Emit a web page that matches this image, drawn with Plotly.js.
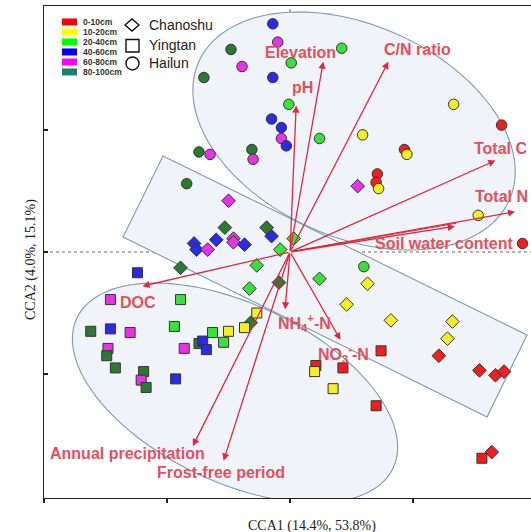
<!DOCTYPE html>
<html>
<head>
<meta charset="utf-8">
<script src="https://cdn.plot.ly/plotly-3.0.1.min.js"></script>
<style>html,body{margin:0;padding:0;background:#fff;}#chart{width:531px;height:532px;}</style>
</head>
<body>
<div id="chart"></div>
<script>
// ---------------- DATA (CCA site scores / biplot arrows) ----------------
// depth codes: 0=0-10cm, 1=10-20cm, 2=20-40cm, 3=40-60cm, 4=60-80cm, 5=80-100cm
const depthLabels = ['0-10cm', '10-20cm', '20-40cm', '40-60cm', '60-80cm', '80-100cm'];
const siteNames = ['Chanoshu', 'Yingtan', 'Hailun'];

const changshuX = [-0.50, 0.55, -0.53, -0.19, -0.15, 0.03, -0.78, -0.76, -0.60, -0.46, -0.46, -0.37, -0.67, -0.08, -0.89, -0.27, -0.09, -0.33, 0.24, 0.63, 0.46, 0.82, 1.32, 1.28, 1.21, 1.54, 1.67, 1.74, 1.64, -0.32];
const changshuY = [0.42, 0.54, 0.20, 0.20, 0.13, 0.11, 0.07, 0.02, 0.10, 0.11, 0.08, 0.06, 0.02, 0.02, -0.13, -0.11, -0.25, -0.30, -0.22, -0.26, -0.43, -0.56, -0.57, -0.71, -0.85, -0.97, -1.01, -0.98, -1.64, -0.58];
const changshuDepth = [4, 4, 5, 5, 3, 2, 3, 3, 3, 4, 4, 3, 4, 2, 5, 2, 5, 2, 2, 1, 1, 1, 1, 1, 0, 0, 0, 0, 0, 5];

const yingtanX = [-1.24, -1.46, -0.89, -0.27, -0.37, -0.50, -0.63, -0.94, -1.62, -1.46, -1.30, -0.54, -0.74, -0.71, -0.68, -0.86, -1.48, -1.49, -1.42, -1.19, -1.21, -1.17, -0.93, 0.74, 0.21, 0.20, 0.43, 0.35, 0.70, 1.56];
const yingtanY = [-0.17, -0.39, -0.39, -0.50, -0.62, -0.65, -0.66, -0.61, -0.65, -0.63, -0.66, -0.74, -0.75, -0.73, -0.80, -0.79, -0.79, -0.85, -0.95, -0.98, -1.05, -1.11, -1.04, -0.81, -0.93, -0.98, -0.95, -1.12, -1.26, -1.69];
const yingtanDepth = [3, 4, 2, 1, 1, 1, 2, 2, 5, 3, 4, 2, 5, 3, 3, 4, 4, 5, 5, 5, 4, 5, 3, 0, 0, 1, 0, 1, 0, 0];

const hailunX = [-0.14, -0.10, -0.48, 0.42, 0.01, -0.39, -0.70, -0.14, -0.01, 1.33, 1.72, -0.15, -0.07, 0.59, -0.07, 0.24, -0.03, -0.31, -0.30, -0.74, -0.65, 0.93, 0.95, 0.71, 0.70, 0.72, 1.53, 1.89, -0.84, 0.60];
const hailunY = [1.87, 1.72, 1.66, 1.67, 1.55, 1.52, 1.43, 1.43, 1.21, 1.21, 1.04, 1.09, 1.02, 0.96, 0.93, 0.93, 0.87, 0.84, 0.76, 0.82, 0.80, 0.84, 0.80, 0.64, 0.57, 0.52, 0.30, 0.07, 0.56, -0.12];
const hailunDepth = [3, 4, 5, 2, 2, 4, 5, 3, 2, 1, 0, 3, 3, 1, 4, 2, 3, 5, 4, 5, 4, 0, 1, 0, 0, 1, 1, 0, 5, 2];

const envNames = ['Elevation', 'C/N ratio', 'pH', 'Total C', 'Total N', 'Soil water content', 'DOC',
  'NH<sub>4</sub><sup>+</sup>-N', 'NO<sub>3</sub><sup>-</sup>-N', 'Annual precipitation', 'Frost-free period'];
const envX = [0.27, 0.80, 0.05, 1.67, 1.83, 1.34, -1.20, -0.04, 0.41, -0.79, -0.54];
const envY = [1.56, 1.56, 1.20, 0.75, 0.33, 0.21, -0.28, -0.47, -0.72, -1.59, -1.71];

const axisTitleX = 'CCA1 (14.4%, 53.8%)';
const axisTitleY = 'CCA2 (4.0%, 15.1%)';

// ---------------- STYLE ----------------
const depthColors = ['#f01e1e', '#f4ee26', '#3ce03c', '#2a2ae8', '#e633e6', '#2b7a32'];
const legendColors = ['#ff0000', '#ffff00', '#00ff00', '#0000ff', '#ff00ff', '#1e7f6e'];
const arrowColor = '#e2263f';
const labelColor = '#e4505c';

// pixel helpers for decorative layout items (frame px -> axis units)
const X = px => (px - 290) / 123;
const Y = py => (252 - py) / 122;

function ellipsePath(cx, cy, a, b, deg) {
  const t = deg * Math.PI / 180, n = 120;
  let p = '';
  for (let i = 0; i <= n; i++) {
    const f = 2 * Math.PI * i / n;
    const px = cx + a * Math.cos(f) * Math.cos(t) - b * Math.sin(f) * Math.sin(t);
    const py = cy + a * Math.cos(f) * Math.sin(t) + b * Math.sin(f) * Math.cos(t);
    p += (i === 0 ? 'M' : 'L') + X(px).toFixed(4) + ',' + Y(py).toFixed(4);
  }
  return p + 'Z';
}
function polyPath(pts) {
  return pts.map((q, i) => (i === 0 ? 'M' : 'L') + X(q[0]).toFixed(4) + ',' + Y(q[1]).toFixed(4)).join('') + 'Z';
}

const groupPaths = [
  ellipsePath(354, 131, 170, 106, 24),
  ellipsePath(235, 393, 175, 89, 25.4),
  polyPath([[163, 156], [527, 335], [487, 417], [123, 237]])
];

const shapes = [];
groupPaths.forEach(p => shapes.push({type: 'path', path: p, xref: 'x', yref: 'y', layer: 'below',
  fillcolor: '#f0f4f8', line: {width: 0}}));
groupPaths.forEach(p => shapes.push({type: 'path', path: p, xref: 'x', yref: 'y', layer: 'below',
  fillcolor: 'rgba(0,0,0,0)', line: {color: '#7e9ab6', width: 1.1}}));
// dotted zero lines
shapes.push({type: 'line', xref: 'x', yref: 'paper', x0: 0, x1: 0, y0: 0, y1: 1, layer: 'below',
  line: {color: '#666', width: 1, dash: 'dot'}});
shapes.push({type: 'line', xref: 'paper', yref: 'y', x0: 0, x1: 1, y0: 0, y1: 0, layer: 'below',
  line: {color: '#666', width: 1, dash: 'dot'}});

// legend swatches and symbols
legendColors.forEach((c, i) => {
  const cy = 22 + i * 10;
  shapes.push({type: 'rect', xref: 'x', yref: 'y', x0: X(62), x1: X(77), y0: Y(cy - 3.5), y1: Y(cy + 3.5),
    fillcolor: c, line: {width: 0}});
});
shapes.push({type: 'path', xref: 'x', yref: 'y',
  path: 'M' + X(125) + ',' + Y(25) + 'L' + X(132) + ',' + Y(19) + 'L' + X(139) + ',' + Y(25) + 'L' + X(132) + ',' + Y(31) + 'Z',
  fillcolor: '#fff', line: {color: '#111', width: 1.4}});
shapes.push({type: 'rect', xref: 'x', yref: 'y', x0: X(126), x1: X(139), y0: Y(39.5), y1: Y(52),
  fillcolor: '#fff', line: {color: '#111', width: 1.4}});
shapes.push({type: 'circle', xref: 'x', yref: 'y', x0: X(126), x1: X(139), y0: Y(57), y1: Y(70),
  fillcolor: '#fff', line: {color: '#111', width: 1.4}});

const annotations = [];
// arrows from origin
envX.forEach((x, i) => {
  annotations.push({x: x, y: envY[i], ax: 0, ay: 0, xref: 'x', yref: 'y', axref: 'x', ayref: 'y',
    text: '', showarrow: true, arrowhead: 2, arrowsize: 1.1, arrowwidth: 1.3, arrowcolor: arrowColor});
});
// second (double) line for soil water content
annotations.push({x: envX[5] + 0.01, y: envY[5] + 0.025, ax: 0, ay: 0, xref: 'x', yref: 'y', axref: 'x', ayref: 'y',
  text: '', showarrow: true, arrowhead: 0, arrowwidth: 1.1, arrowcolor: arrowColor});

// arrow labels (pixel anchors)
const labelPos = [
  [300, 53, 'center'], [417, 50, 'center'], [302, 88, 'center'], [472, 149, 'left'], [473, 197, 'left'],
  [444, 243, 'center'], [138, 302, 'center'], [304, 323, 'center'], [343, 354, 'center'],
  [127, 453, 'center'], [221, 472, 'center']
];
envNames.forEach((t, i) => {
  const lp = labelPos[i];
  annotations.push({x: X(lp[0]), y: Y(lp[1]), xref: 'x', yref: 'y', text: '<b>' + t + '</b>', showarrow: false,
    xanchor: lp[2], yanchor: 'middle', font: {family: 'Liberation Sans, Arial, sans-serif', size: 16, color: labelColor}});
});
// legend texts
depthLabels.forEach((t, i) => {
  annotations.push({x: X(81), y: Y(22 + i * 10), xref: 'x', yref: 'y', text: '<b>' + t + '</b>', showarrow: false,
    xanchor: 'left', yanchor: 'middle', font: {family: 'Liberation Sans, Arial, sans-serif', size: 8.5, color: '#333'}});
});
[25, 45, 63].forEach((cy, i) => {
  annotations.push({x: X(147), y: Y(cy), xref: 'x', yref: 'y', text: siteNames[i], showarrow: false,
    xanchor: 'left', yanchor: 'middle', font: {family: 'Liberation Sans, Arial, sans-serif', size: 14, color: '#222'}});
});
// axis titles
annotations.push({x: X(312), y: 0, xref: 'x', yref: 'paper', yshift: -28, text: axisTitleX, showarrow: false,
  xanchor: 'center', yanchor: 'middle', font: {family: 'Liberation Serif, Times New Roman, serif', size: 14, color: '#222'}});
annotations.push({x: 0, y: Y(260), xref: 'paper', yref: 'y', xshift: -13, text: axisTitleY, showarrow: false, textangle: -90,
  xanchor: 'center', yanchor: 'middle', font: {family: 'Liberation Serif, Times New Roman, serif', size: 14, color: '#222'}});

function siteTrace(xs, ys, ds, symbol, size) {
  return {type: 'scatter', mode: 'markers', x: xs, y: ys, cliponaxis: false, showlegend: false, hoverinfo: 'skip',
    marker: {symbol: symbol, size: size, color: ds.map(d => depthColors[d]), line: {color: '#333', width: 1}}};
}

const data = [
  siteTrace(hailunX, hailunY, hailunDepth, 'circle', 10.5),
  siteTrace(changshuX, changshuY, changshuDepth, 'diamond', 10.5),
  siteTrace(yingtanX, yingtanY, yingtanDepth, 'square', 10)
];

const layout = {
  width: 531, height: 532,
  margin: {l: 44, r: 0, t: 6, b: 34, pad: 0},
  paper_bgcolor: '#fff', plot_bgcolor: '#fff',
  showlegend: false,
  xaxis: {range: [-2, 1.959], showgrid: false, zeroline: false, showticklabels: false,
    showline: true, linecolor: '#222', linewidth: 1.3, mirror: true,
    ticks: 'outside', ticklen: 4, tickcolor: '#222', tickwidth: 1.3, tickvals: [-2, -1, 0, 1]},
  yaxis: {range: [-2.016, 2.016], showgrid: false, zeroline: false, showticklabels: false,
    showline: true, linecolor: '#222', linewidth: 1.3,
    ticks: 'inside', ticklen: 4, tickcolor: '#222', tickwidth: 1.3, tickvals: [-1, 0, 1]},
  shapes: shapes,
  annotations: annotations
};

Plotly.newPlot('chart', data, layout, {displayModeBar: false, staticPlot: true});
</script>
</body>
</html>
